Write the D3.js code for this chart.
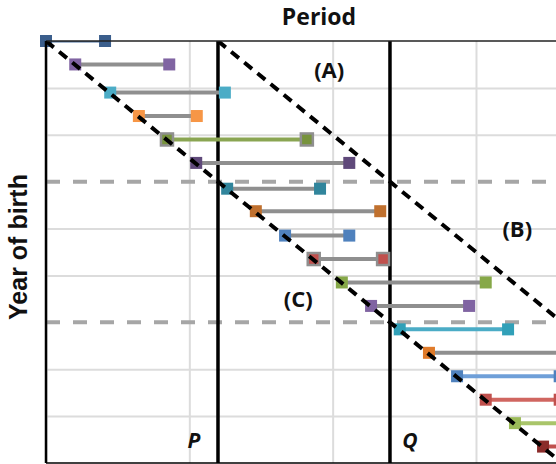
<!DOCTYPE html>
<html><head><meta charset="utf-8">
<script src="https://cdn.jsdelivr.net/npm/d3@7"></script>
<style>body{margin:0;background:#fff}svg{display:block}</style>
</head><body>
<svg id="c" width="556" height="464"></svg>
<script>
// ---- data ----
const birthYear = [0, 0.5, 1.1, 1.6, 2.1, 2.6, 3.15, 3.63, 4.15, 4.65, 5.15, 5.65, 6.15, 6.65, 7.15, 7.65, 8.15, 8.65];
const startPeriod = [0, 0.51, 1.12, 1.62, 2.11, 2.62, 3.16, 3.66, 4.17, 4.67, 5.16, 5.67, 6.17, 6.68, 7.17, 7.67, 8.18, 8.67];
const endPeriod = [1.03, 2.15, 3.12, 2.63, 4.55, 5.29, 4.78, 5.83, 5.29, 5.88, 7.67, 7.38, 8.06, 9.6, 8.96, 8.96, 9.6, 9.6];
const markerColors = ["#3b5e8c","#8064a2","#4bacc6","#f79646","#77933c","#5f497a","#31859c","#c0702e","#4f81bd","#c0504d","#86a848","#8064a2","#31a0b8","#e07b2a","#4f81bd","#c0504d","#9bbb59","#8b2c2a"];
const lineColors = ["#4a70a0","#8f8f8f","#8f8f8f","#8f8f8f","#8aa552","#8f8f8f","#8f8f8f","#8f8f8f","#8f8f8f","#8f8f8f","#8f8f8f","#8f8f8f","#4bacc6","#8f8f8f","#6f9fd8","#d06660","#a9c56a","#c0504d"];
const markerEdge = [0,0,0,0,1,0,0,0,0,1,0,0,0,0,0,0,0,0];
const periodMarks = [3, 6];           // P and Q
const periodLabels = ["P", "Q"];
const cohortBreaks = [3, 6];          // dashed gray
const diagonalOffsets = [0, 3];       // age lines
const regionLabels = [{t:"(A)", x:4.94, y:0.78}, {t:"(B)", x:8.22, y:4.17}, {t:"(C)", x:4.4, y:5.67}];
const xGrid = [0, 2.5, 5, 7.5, 10];
const yGrid = [1, 2, 4, 5, 7, 8];

// ---- layout ----
const svg = d3.select("#c");
const L = 46, T = 41, B = 463, R = 46 + 573.3;
const x = d3.scaleLinear().domain([0, 10]).range([L, R]);
const y = d3.scaleLinear().domain([0, 9]).range([T, B]);

svg.append("defs").append("clipPath").attr("id","pc")
  .append("rect").attr("x", L).attr("y", T).attr("width", R - L).attr("height", B - T);
const g = svg.append("g").attr("clip-path", "url(#pc)");

// grid via axes
const gx = g.append("g").attr("transform", `translate(0,${T})`)
  .call(d3.axisTop(x).tickValues(xGrid).tickSize(-(B - T)).tickFormat(""));
gx.select(".domain").remove();
gx.selectAll("line").attr("stroke", "#dcdcdc").attr("stroke-width", 2);
const gy = g.append("g").attr("transform", `translate(${L},0)`)
  .call(d3.axisLeft(y).tickValues(yGrid).tickSize(-(R - L)).tickFormat(""));
gy.select(".domain").remove();
gy.selectAll("line").attr("stroke", "#dcdcdc").attr("stroke-width", 2);

// dashed cohort breaks
g.selectAll(".cb").data(cohortBreaks).join("line")
  .attr("x1", x(0)).attr("x2", R).attr("y1", d => y(d)).attr("y2", d => y(d))
  .attr("stroke", "#a6a6a6").attr("stroke-width", 4).attr("stroke-dasharray", "14,13");

// period lines
g.selectAll(".pm").data(periodMarks).join("line")
  .attr("x1", d => x(d)).attr("x2", d => x(d)).attr("y1", T).attr("y2", B)
  .attr("stroke", "#000").attr("stroke-width", 3.5);

// segments
const idx = d3.range(birthYear.length);
g.selectAll(".seg").data(idx).join("line")
  .attr("x1", i => x(startPeriod[i])).attr("x2", i => x(endPeriod[i]))
  .attr("y1", i => y(birthYear[i])).attr("y2", i => y(birthYear[i]))
  .attr("stroke", i => lineColors[i]).attr("stroke-width", i => i === 0 ? 3 : 4);

const ms = 12;
const pts = idx.flatMap(i => [{i, p: startPeriod[i]}, {i, p: endPeriod[i]}]);
svg.selectAll(".mk").data(pts).join("rect")
  .attr("x", d => x(d.p) - ms / 2).attr("y", d => y(birthYear[d.i]) - ms / 2)
  .attr("width", ms).attr("height", ms)
  .attr("fill", d => markerColors[d.i])
  .attr("stroke", d => markerEdge[d.i] ? "#8f8f8f" : "none")
  .attr("stroke-width", 2.5);

// diagonals
const gd = svg.append("g").attr("clip-path", "url(#pc)");
gd.selectAll(".dg").data(diagonalOffsets).join("line")
  .attr("x1", d => x(d)).attr("y1", y(0))
  .attr("x2", d => x(d + 9)).attr("y2", y(9))
  .attr("stroke", "#000").attr("stroke-width", 4).attr("stroke-dasharray", "10,7");

// frame
svg.append("line").attr("x1", L).attr("x2", 556).attr("y1", T).attr("y2", T).attr("stroke", "#222").attr("stroke-width", 1.5);
svg.append("line").attr("x1", L).attr("x2", 556).attr("y1", B).attr("y2", B).attr("stroke", "#000").attr("stroke-width", 1.5);
svg.append("line").attr("x1", L).attr("x2", L).attr("y1", T).attr("y2", B).attr("stroke", "#000").attr("stroke-width", 2.5);

// labels
svg.append("text").attr("x", 319).attr("y", 25).attr("text-anchor", "middle")
  .attr("font-family", "'Open Sans', Lato, sans-serif").attr("font-weight", 700).attr("font-size", 23)
  .attr("fill", "#111").text("Period");
svg.append("text").attr("transform", "translate(27,247) rotate(-90)").attr("text-anchor", "middle")
  .attr("font-family", "'Liberation Sans', Arial, sans-serif").attr("font-weight", 700).attr("font-size", 25)
  .attr("fill", "#111").text("Year of birth");
svg.selectAll(".rl").data(regionLabels).join("text")
  .attr("x", d => x(d.x)).attr("y", d => y(d.y)).attr("text-anchor", "middle")
  .attr("font-family", "'Open Sans', Lato, sans-serif").attr("font-weight", 700).attr("font-size", 22)
  .attr("fill", "#111").text(d => d.t);
svg.selectAll(".pl").data(periodMarks).join("text")
  .attr("x", (d, i) => x(d) + (i === 0 ? -24 : 20)).attr("y", 448).attr("text-anchor", "middle")
  .attr("font-family", "'Open Sans', sans-serif").attr("font-weight", 700).attr("font-style", "italic").attr("font-size", 21)
  .attr("fill", "#111").text((d, i) => periodLabels[i]);
</script>
</body></html>
